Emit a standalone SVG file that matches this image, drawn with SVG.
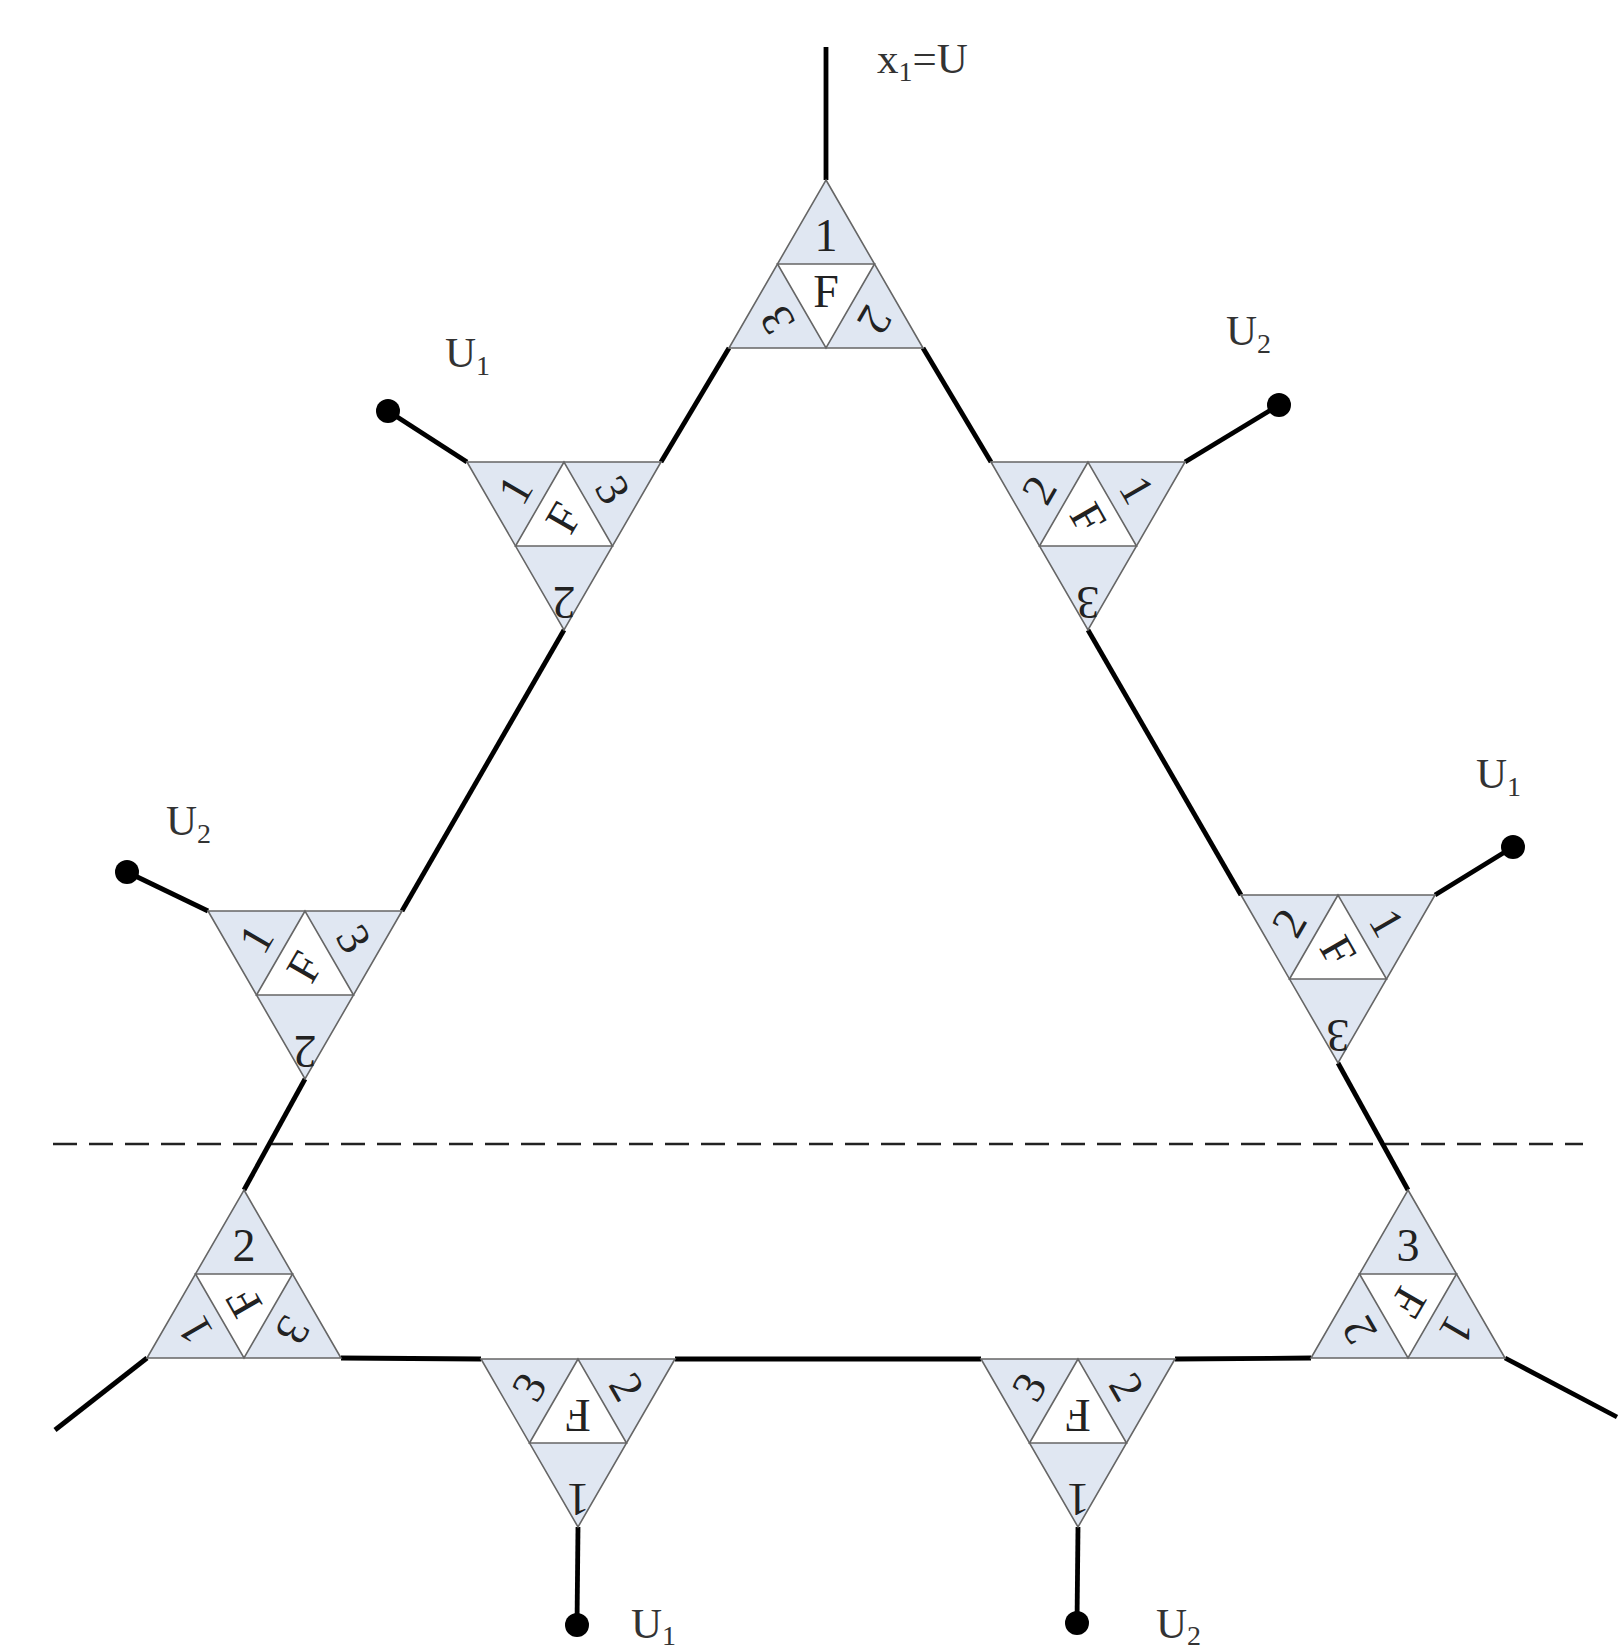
<svg xmlns="http://www.w3.org/2000/svg" width="1620" height="1652" viewBox="0 0 1620 1652">
<style>
.tri{fill:#e0e7f2;stroke:#666;stroke-width:1.6}
.mid{fill:#fff;stroke:#666;stroke-width:1.6}
.wire{stroke:#000;stroke-width:4.8;fill:none}
.dot{fill:#000}
.dash{stroke:#222;stroke-width:2.5;stroke-dasharray:24 12;fill:none}
.n{font-family:"Liberation Serif",serif;font-size:46px;text-anchor:middle;fill:#222}
.lbl{font-family:"Liberation Serif",serif;font-size:43px;fill:#333}
.sub{font-size:28px}
</style>
<rect width="1620" height="1652" fill="#fff"/>
<g id="connectors">
<line class="dash" x1="53" y1="1144" x2="1583" y2="1144"/>
<line class="wire" x1="826" y1="47" x2="826" y2="180"/>
<line class="wire" x1="729" y1="348" x2="661" y2="462"/>
<line class="wire" x1="923" y1="348" x2="991" y2="462"/>
<line class="wire" x1="564" y1="630" x2="402" y2="911"/>
<line class="wire" x1="1088" y1="630" x2="1241" y2="895"/>
<line class="wire" x1="305" y1="1079" x2="244" y2="1190"/>
<line class="wire" x1="1338" y1="1063" x2="1408" y2="1190"/>
<line class="wire" x1="341" y1="1358" x2="481" y2="1359"/>
<line class="wire" x1="675" y1="1359" x2="981" y2="1359"/>
<line class="wire" x1="1175" y1="1359" x2="1311" y2="1358"/>
<line class="wire" x1="467" y1="462" x2="388" y2="411"/>
<circle class="dot" cx="388" cy="411" r="12"/>
<line class="wire" x1="1185" y1="462" x2="1279" y2="405"/>
<circle class="dot" cx="1279" cy="405" r="12"/>
<line class="wire" x1="208" y1="911" x2="127" y2="872"/>
<circle class="dot" cx="127" cy="872" r="12"/>
<line class="wire" x1="1435" y1="895" x2="1513" y2="847"/>
<circle class="dot" cx="1513" cy="847" r="12"/>
<line class="wire" x1="578" y1="1527" x2="577" y2="1625"/>
<circle class="dot" cx="577" cy="1625" r="12"/>
<line class="wire" x1="1078" y1="1527" x2="1077" y2="1623"/>
<circle class="dot" cx="1077" cy="1623" r="12"/>
<line class="wire" x1="147" y1="1358" x2="55" y2="1430"/>
<line class="wire" x1="1505" y1="1358" x2="1617" y2="1417"/>
</g>
<g id="node-top">
<polygon class="tri" points="826,180 923,348 729,348"/>
<polygon class="mid" points="777.5,264 874.5,264 826,348"/>
<text class="n" transform="translate(826 236)" y="15">1</text>
<text class="n" transform="translate(777.5 320) rotate(-120)" y="15">3</text>
<text class="n" transform="translate(874.5 320) rotate(120)" y="15">2</text>
<text class="n" transform="translate(826 292)" y="15">F</text>
</g>
<g id="node-left-top">
<polygon class="tri" points="467,462 661,462 564,630"/>
<polygon class="mid" points="564,462 515.5,546 612.5,546"/>
<text class="n" transform="translate(515.5 490) rotate(-60)" y="15">1</text>
<text class="n" transform="translate(612.5 490) rotate(60)" y="15">3</text>
<text class="n" transform="translate(564 602) rotate(180)" y="15">2</text>
<text class="n" transform="translate(564 518) rotate(-60)" y="15">F</text>
</g>
<g id="node-right-top">
<polygon class="tri" points="991,462 1185,462 1088,630"/>
<polygon class="mid" points="1088,462 1039.5,546 1136.5,546"/>
<text class="n" transform="translate(1039.5 490) rotate(-60)" y="15">2</text>
<text class="n" transform="translate(1136.5 490) rotate(60)" y="15">1</text>
<text class="n" transform="translate(1088 602) rotate(180)" y="15">3</text>
<text class="n" transform="translate(1088 518) rotate(60)" y="15">F</text>
</g>
<g id="node-left-mid">
<polygon class="tri" points="208,911 402,911 305,1079"/>
<polygon class="mid" points="305,911 256.5,995 353.5,995"/>
<text class="n" transform="translate(256.5 939) rotate(-60)" y="15">1</text>
<text class="n" transform="translate(353.5 939) rotate(60)" y="15">3</text>
<text class="n" transform="translate(305 1051) rotate(180)" y="15">2</text>
<text class="n" transform="translate(305 967) rotate(-60)" y="15">F</text>
</g>
<g id="node-right-mid">
<polygon class="tri" points="1241,895 1435,895 1338,1063"/>
<polygon class="mid" points="1338,895 1289.5,979 1386.5,979"/>
<text class="n" transform="translate(1289.5 923) rotate(-60)" y="15">2</text>
<text class="n" transform="translate(1386.5 923) rotate(60)" y="15">1</text>
<text class="n" transform="translate(1338 1035) rotate(180)" y="15">3</text>
<text class="n" transform="translate(1338 951) rotate(60)" y="15">F</text>
</g>
<g id="node-bottom-left">
<polygon class="tri" points="244,1190 341,1358 147,1358"/>
<polygon class="mid" points="195.5,1274 292.5,1274 244,1358"/>
<text class="n" transform="translate(244 1246)" y="15">2</text>
<text class="n" transform="translate(195.5 1330) rotate(-120)" y="15">1</text>
<text class="n" transform="translate(292.5 1330) rotate(120)" y="15">3</text>
<text class="n" transform="translate(244 1302) rotate(-120)" y="15">F</text>
</g>
<g id="node-bottom-right">
<polygon class="tri" points="1408,1190 1505,1358 1311,1358"/>
<polygon class="mid" points="1359.5,1274 1456.5,1274 1408,1358"/>
<text class="n" transform="translate(1408 1246)" y="15">3</text>
<text class="n" transform="translate(1359.5 1330) rotate(-120)" y="15">2</text>
<text class="n" transform="translate(1456.5 1330) rotate(120)" y="15">1</text>
<text class="n" transform="translate(1408 1302) rotate(120)" y="15">F</text>
</g>
<g id="node-bottom-mid1">
<polygon class="tri" points="481,1359 675,1359 578,1527"/>
<polygon class="mid" points="578,1359 529.5,1443 626.5,1443"/>
<text class="n" transform="translate(529.5 1387) rotate(-60)" y="15">3</text>
<text class="n" transform="translate(626.5 1387) rotate(60)" y="15">2</text>
<text class="n" transform="translate(578 1499) rotate(180)" y="15">1</text>
<text class="n" transform="translate(578 1415) rotate(180)" y="15">F</text>
</g>
<g id="node-bottom-mid2">
<polygon class="tri" points="981,1359 1175,1359 1078,1527"/>
<polygon class="mid" points="1078,1359 1029.5,1443 1126.5,1443"/>
<text class="n" transform="translate(1029.5 1387) rotate(-60)" y="15">3</text>
<text class="n" transform="translate(1126.5 1387) rotate(60)" y="15">2</text>
<text class="n" transform="translate(1078 1499) rotate(180)" y="15">1</text>
<text class="n" transform="translate(1078 1415) rotate(180)" y="15">F</text>
</g>
<g id="labels">
<text class="lbl" x="877" y="73">x<tspan class="sub" dy="8">1</tspan><tspan dy="-8">=U</tspan></text>
<text class="lbl" x="445" y="367">U<tspan class="sub" dy="8">1</tspan></text>
<text class="lbl" x="1226" y="345">U<tspan class="sub" dy="8">2</tspan></text>
<text class="lbl" x="166" y="835">U<tspan class="sub" dy="8">2</tspan></text>
<text class="lbl" x="1476" y="788">U<tspan class="sub" dy="8">1</tspan></text>
<text class="lbl" x="631" y="1638">U<tspan class="sub" dy="7">1</tspan></text>
<text class="lbl" x="1156" y="1638">U<tspan class="sub" dy="7">2</tspan></text>
</g>
</svg>
